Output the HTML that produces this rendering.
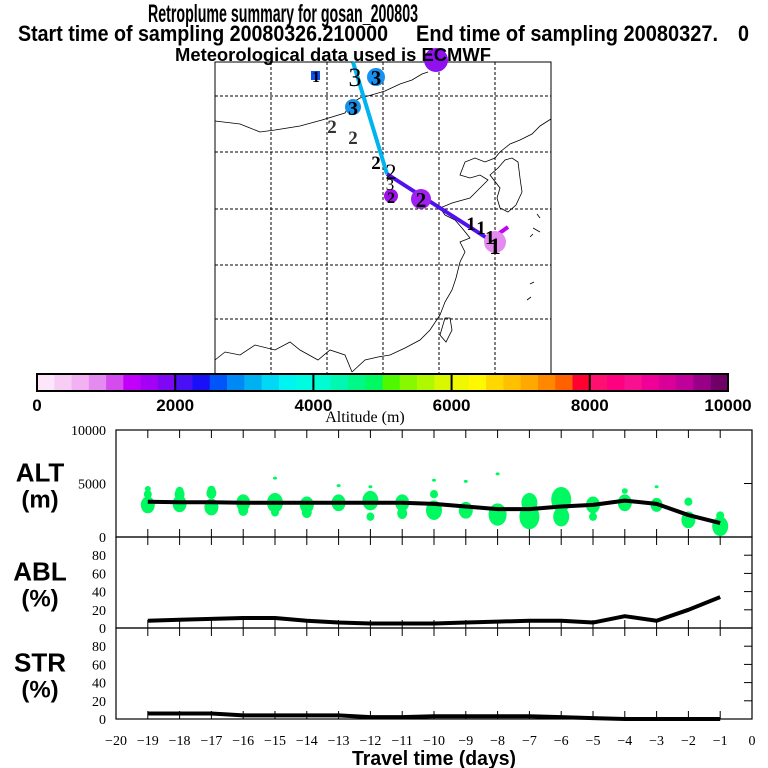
<!DOCTYPE html>
<html><head><meta charset="utf-8"><style>
html,body{margin:0;padding:0;background:#fff;}
svg{display:block;font-family:"Liberation Sans",sans-serif;}
.ttl{font-weight:bold;fill:#000;}
.tk{font-family:"Liberation Serif",serif;font-size:14px;fill:#000;}
</style></head><body>
<svg id="chart" width="768" height="768" viewBox="0 0 768 768" xmlns="http://www.w3.org/2000/svg">
<rect width="768" height="768" fill="#fff"/>
<text class="ttl" x="148" y="22" style="font-size:25px" textLength="270" lengthAdjust="spacingAndGlyphs">Retroplume summary for gosan_200803</text>
<g>
<text class="ttl" x="18" y="41" style="font-size:22px" textLength="370" lengthAdjust="spacingAndGlyphs">Start time of sampling 20080326.210000</text>
<text class="ttl" x="416" y="41" style="font-size:22px" textLength="302" lengthAdjust="spacingAndGlyphs">End time of sampling 20080327.</text>
<text class="ttl" x="738" y="41" style="font-size:22px" textLength="11" lengthAdjust="spacingAndGlyphs">0</text>
</g>

<g id="map">
<rect x="215" y="62" width="336" height="312" fill="#fff" stroke="#000" stroke-width="1"/>
<g stroke="#000" stroke-dasharray="3,2" stroke-width="1">
<line x1="271" y1="62" x2="271" y2="374"/><line x1="327" y1="62" x2="327" y2="374"/><line x1="383" y1="62" x2="383" y2="374"/><line x1="439" y1="62" x2="439" y2="374"/><line x1="495" y1="62" x2="495" y2="374"/>
<line x1="215" y1="96" x2="551" y2="96"/><line x1="215" y1="152" x2="551" y2="152"/><line x1="215" y1="209" x2="551" y2="209"/><line x1="215" y1="265" x2="551" y2="265"/><line x1="215" y1="319" x2="551" y2="319"/>
</g>
<g fill="none" stroke="#000" stroke-width="0.8">
<path d="M215,121 L240,124 L260,132 L275,130 L300,126 L322,120 L345,113 L350,104 L360,98 L368,96 L385,91 L400,84 L412,80 L422,74 L428,72"/>
<path d="M551,119 L540,126 L532,134 L520,140 L510,144 L500,152 L495,158 L485,162 L475,158 L465,162 L460,175 L470,178 L480,175 L488,180 L478,190 L470,198 L452,203 L440,208 L445,215 L455,220 L462,228 L470,238 L460,242 L465,252 L460,262 L456,278 L452,290 L445,302 L440,315 L430,330 L420,340 L405,348 L390,355 L378,357 L365,360 L352,372"/>
<path d="M490,175 L498,168 L505,160 L512,158 L518,162 L520,178 L522,192 L516,205 L508,212 L500,208 L497,198 L500,188 Z"/>
<path d="M445,318 L450,318 L452,330 L446,342 L440,335 Z"/>
<path d="M215,360 L225,352 L240,355 L255,345 L275,350 L290,342 L300,350 L318,360 L330,350 L345,355 L352,372"/>
<path d="M533,228 L540,232 M537,214 L540,218 M530,237 L533,234 M527,300 L531,297 M530,284 L534,282"/>
</g>
<g>
<line x1="353" y1="62" x2="387" y2="174" stroke="#00b4f0" stroke-width="4"/>
<line x1="387" y1="174" x2="490" y2="240" stroke="#5010f0" stroke-width="4"/>
<line x1="490" y1="240" x2="508" y2="227" stroke="#c000f8" stroke-width="4"/>
</g>
<g font-family="Liberation Serif,serif" font-weight="bold" text-anchor="middle">
<circle cx="436" cy="60" r="12" fill="#9010f0"/>
<circle cx="376" cy="77" r="9" fill="#1890f0"/>
<circle cx="353" cy="107" r="8" fill="#1890e8"/>
<circle cx="391" cy="196" r="7" fill="#a010e8"/>
<circle cx="421" cy="199" r="10" fill="#a020f0"/>
<circle cx="495" cy="242" r="11" fill="#e48af0"/>
<rect x="311" y="71" width="9" height="9" fill="#1050f0"/>
<text x="316" y="82" font-size="16">1</text>
<text x="355" y="86" font-size="26" font-weight="normal">3</text>
<text x="376" y="85" font-size="21">3</text>
<text x="353" y="115" font-size="20">3</text>
<text x="332" y="133" font-size="19" fill="#333">2</text>
<text x="353" y="144" font-size="19" fill="#333">2</text>
<text x="376" y="169" font-size="19">2</text>
<text x="391" y="179" font-size="22" font-weight="normal">2</text>
<text x="390" y="190" font-size="17" font-weight="normal">3</text>
<text x="391" y="203" font-size="16">2</text>
<text x="421" y="207" font-size="21">2</text>
<text x="471" y="230" font-size="19">1</text>
<text x="481" y="234" font-size="19">1</text>
<text x="490" y="244" font-size="20">1</text>
<text x="495" y="254" font-size="23">1</text>
</g>
</g>
<text class="ttl" x="175" y="61" style="font-size:18px" textLength="316" lengthAdjust="spacingAndGlyphs">Meteorological data used is ECMWF</text>

<g id="colorbar"></g>
<text class="tk" x="365" y="422" text-anchor="middle" style="font-size:16px">Altitude (m)</text>

<g id="panels"></g>
<text class="ttl" x="352" y="765" style="font-size:20px" textLength="164" lengthAdjust="spacingAndGlyphs">Travel time (days)</text>
</svg>
<script>
const NS = 'http://www.w3.org/2000/svg';
const cbColors = ['#fde6fa','#f8cdf5','#f2b2f2','#e58af0','#d44cf0','#c000f8','#a400f5','#7e08f4',
'#4a10f5','#1a10f8','#0055f8','#0088f5','#00b0f0','#00d8f5','#00f4f2','#00fce0',
'#00fcd0','#00f8b0','#00f888','#00f860','#50f800','#88f800','#b0f800','#d8f800',
'#f0f800','#fff800','#ffd800','#ffc000','#ffa800','#ff8800','#ff6000','#ff0030',
'#ff1070','#ff0080','#f81090','#f00098','#d80098','#c0009a','#980088','#700068'];
const cbTicks = [0,2000,4000,6000,8000,10000];
const days = [-19,-18,-17,-16,-15,-14,-13,-12,-11,-10,-9,-8,-7,-6,-5,-4,-3,-2,-1];
const altValues = [3300,3250,3250,3200,3200,3200,3200,3200,3200,3100,2850,2600,2600,2850,3000,3400,3100,2050,1300];
const ablValues = [8,9,10,11,11,8,6,5,5,5,6,7,8,8,6,13,8,20,34];
const strValues = [6,6,6,4,4,4,4,2,2,3,3,3,3,2,1,0,0,0,0];
const xTickLabels = [-20,-19,-18,-17,-16,-15,-14,-13,-12,-11,-10,-9,-8,-7,-6,-5,-4,-3,-2,-1,0];
// green plume blobs: day, altitude (m), relative size
const blobDays = [-19,-19,-19,-18,-18,-18,-17,-17,-17,-16,-16,-15,-15,-15,-14,-14,-13,-13,-12,-12,-12,-11,-11,-10,-10,-10,-9,-9,-8,-8,-7,-7,-6,-6,-5,-5,-4,-4,-3,-3,-2,-2,-1,-1];
const blobAlts = [3000,4000,4500,3100,4000,4300,2800,4100,4400,3200,2500,3200,2300,5500,3000,2300,3200,4800,3400,1900,4700,3200,2200,2500,4000,5300,2500,5200,2100,5900,1900,3200,3500,1900,3000,1900,3200,4300,3000,4700,1600,3300,1000,2000];
const blobSizes = [6,3,2,6,4,3,6,4,3,6,4,7,3,1,6,4,6,1,7,3,1,6,4,7,3,1,6,1,8,1,9,7,9,7,6,3,6,2,5,1,6,3,7,3];

function mk(tag, attrs, parent){const e=document.createElementNS(NS,tag);for(const k in attrs)e.setAttribute(k,attrs[k]);(parent||document.getElementById('chart')).appendChild(e);return e;}

const cb = document.getElementById('colorbar');
const cbX0=37, cbX1=728, cbY=374, cbH=17;
const cbScale = v => cbX0 + (v/10000)*(cbX1-cbX0);
cbColors.forEach((c,i)=>{
  const r = mk('rect',{x:cbScale(i*250),y:cbY,width:cbScale((i+1)*250)-cbScale(i*250)+0.5,height:cbH,fill:c},cb);
  
  
});
mk('rect',{x:cbX0,y:cbY,width:cbX1-cbX0,height:cbH,fill:'none',stroke:'#000','stroke-width':2},cb);
cbTicks.forEach((v,i)=>{
  if(i>0&&i<cbTicks.length-1) mk('line',{x1:cbScale(v),y1:cbY,x2:cbScale(v),y2:cbY+cbH,stroke:'#000','stroke-width':2},cb);
  const t = mk('text',{x:cbScale(v),y:411,'text-anchor':'middle','font-size':17,'font-weight':'bold'},cb);
  
  
  t.textContent=v;
});

const px0=116, px1=752;
const xs = d => px0 + (d+20)/20*(px1-px0);
const P = document.getElementById('panels');
const panels = [
 {name:'alt',top:430,bot:537,max:10000,ticks:[0,5000,10000],rticks:[5000],label:['ALT','(m)'],vals:altValues},
 {name:'abl',top:537,bot:628,max:100,ticks:[0,20,40,60,80],rticks:[20,40,60,80],label:['ABL','(%)'],vals:ablValues},
 {name:'str',top:628,bot:719,max:100,ticks:[0,20,40,60,80],rticks:[20,40,60,80],label:['STR','(%)'],vals:strValues}
];
panels.forEach(p=>{
  const g = mk('g',{},P);
  
  
  const ys = v => p.bot - v/p.max*(p.bot-p.top);
  mk('rect',{x:px0,y:p.top,width:px1-px0,height:p.bot-p.top,fill:'none',stroke:'#000','stroke-width':1.2},g);
  xTickLabels.forEach(d=>{
    if(d===-20||d===0) return;
    mk('line',{x1:xs(d),y1:p.top,x2:xs(d),y2:p.top+8,stroke:'#000'},g);
    mk('line',{x1:xs(d),y1:p.bot,x2:xs(d),y2:p.bot-8,stroke:'#000'},g);
  });
  p.rticks.forEach(v=>{ mk('line',{x1:px1-8,y1:ys(v),x2:px1,y2:ys(v),stroke:'#000'},g); });
  p.ticks.forEach(v=>{
    const t=mk('text',{x:106,y:ys(v)+5,'text-anchor':'end',class:'tk'},g);
    
    
    t.textContent=v;
  });
  const l1=mk('text',{x:40,y:(p.top+p.bot)/2-2,'text-anchor':'middle','font-size':26,'font-weight':'bold'},g);
  
  
  l1.textContent=p.label[0];
  const l2=mk('text',{x:40,y:(p.top+p.bot)/2+24,'text-anchor':'middle','font-size':24,'font-weight':'bold'},g);
  
  
  l2.textContent=p.label[1];
  if(p.name==='alt'){
    blobDays.forEach((d,i)=>{
      const s=blobSizes[i];
      const e=mk('ellipse',{cx:xs(d),cy:ys(blobAlts[i]),rx:Math.max(1.5,s*1.0+1),ry:Math.max(1.5,s*1.4),fill:'#00f860'},g);
      
      
    });
  }
  const pts = days.map((d,i)=>xs(d)+','+ys(p.vals[i])).join(' ');
  const ln=mk('polyline',{points:pts,fill:'none',stroke:'#000','stroke-width':4,'stroke-linejoin':'round'},g);
  
  
});
xTickLabels.forEach(d=>{
  const t=mk('text',{x:xs(d),y:745,'text-anchor':'middle',class:'tk'},P);
  
  
  t.textContent=(d<0?'\u2212'+(-d):d);
});
</script>
</body></html>
